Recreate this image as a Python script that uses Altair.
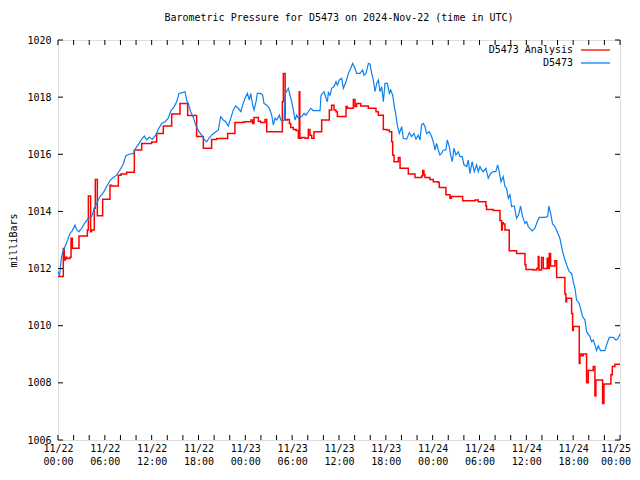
import json
import altair as alt
import pandas as pd

TITLE = "Barometric Pressure for D5473 on 2024-Nov-22 (time in UTC)"
Y_TITLE = "milliBars"
SERIES = ["D5473 Analysis", "D5473"]
COLORS = ["#ff0000", "#0c80f2"]
FONT = "DejaVu Sans Mono"

# hours since 2024-11-22 00:00 UTC
obs_hours = [0.0, 0.2, 0.4, 0.55, 0.9, 1.24, 1.54, 1.84, 2.18, 2.39, 2.69, 3.03, 3.46, 3.89, 4.31, 4.65, 4.95, 5.38, 5.81, 6.23, 6.66, 7.09, 7.51, 7.94, 8.37, 8.67, 9.09, 9.65, 9.95, 10.38, 10.8, 11.06, 11.36, 11.7, 12.08, 12.51, 12.85, 13.28, 13.71, 14.13, 14.47, 14.9, 15.2, 15.5, 15.93, 16.27, 16.48, 16.7, 16.99, 17.34, 17.63, 17.98, 18.4, 18.74, 19.04, 19.34, 19.68, 20.11, 20.54, 20.84, 21.18, 21.48, 21.82, 22.16, 22.46, 22.76, 23.1, 23.44, 23.65, 23.96, 24.26, 24.52, 24.69, 24.94, 25.11, 25.37, 25.54, 25.97, 26.22, 26.39, 26.74, 27.08, 27.38, 27.59, 27.8, 28.02, 28.36, 28.53, 28.79, 28.96, 29.13, 29.38, 29.51, 29.72, 29.94, 30.15, 30.37, 30.58, 30.79, 31.01, 31.22, 31.52, 31.77, 32.07, 32.37, 32.71, 33.35, 33.57, 33.7, 34.08, 34.34, 34.51, 34.64, 34.85, 35.06, 35.36, 35.62, 35.79, 36.04, 36.34, 36.56, 36.9, 37.2, 37.5, 37.75, 38.05, 38.26, 38.69, 39.03, 39.2, 39.46, 39.76, 39.97, 40.19, 40.4, 40.61, 40.83, 41.04, 41.25, 41.47, 41.68, 41.89, 42.19, 42.45, 42.62, 42.88, 43.09, 43.3, 43.47, 43.73, 44.03, 44.24, 44.67, 45.01, 45.31, 45.61, 45.86, 46.16, 46.38, 46.58, 46.8, 47.01, 47.22, 47.57, 47.86, 48.08, 48.29, 48.5, 48.72, 48.93, 49.15, 49.36, 49.7, 49.87, 50.13, 50.3, 50.51, 50.73, 50.98, 51.28, 51.49, 51.79, 52.01, 52.35, 52.56, 52.77, 53.07, 53.33, 53.63, 53.84, 54.06, 54.27, 54.48, 54.82, 55.12, 55.42, 55.76, 56.1, 56.32, 56.53, 56.75, 57.04, 57.26, 57.47, 57.69, 57.9, 58.11, 58.45, 58.75, 59.01, 59.26, 59.52, 59.82, 60.03, 60.25, 60.46, 60.76, 61.1, 61.4, 61.66, 62.04, 62.38, 62.72, 62.89, 63.11, 63.36, 63.66, 63.96, 64.3, 64.65, 64.94, 65.24, 65.5, 65.8, 66.01, 66.23, 66.44, 66.78, 66.99, 67.21, 67.51, 67.72, 68.15, 68.36, 68.57, 68.79, 69.0, 69.21, 69.51, 70.07, 70.28, 70.63, 71.13, 71.48, 71.69, 72.0]
obs_values = [1011.9, 1011.75, 1012.3, 1012.53, 1012.77, 1013.0, 1013.23, 1013.33, 1013.52, 1013.35, 1013.29, 1013.41, 1013.61, 1013.76, 1013.82, 1014.11, 1014.28, 1014.52, 1014.66, 1014.87, 1015.08, 1015.19, 1015.27, 1015.45, 1015.66, 1015.94, 1016.0, 1016.03, 1016.21, 1016.38, 1016.56, 1016.64, 1016.5, 1016.6, 1016.52, 1016.67, 1016.87, 1017.08, 1017.14, 1017.26, 1017.53, 1017.67, 1017.84, 1018.13, 1018.16, 1018.19, 1017.9, 1017.78, 1017.49, 1017.29, 1017.03, 1016.83, 1016.67, 1016.52, 1016.44, 1016.56, 1016.67, 1016.76, 1016.85, 1017.32, 1017.2, 1017.14, 1016.99, 1017.29, 1017.55, 1017.69, 1017.61, 1017.49, 1017.72, 1017.96, 1018.13, 1017.9, 1018.13, 1017.72, 1017.55, 1017.84, 1018.13, 1018.13, 1018.07, 1017.78, 1017.72, 1017.61, 1017.37, 1017.02, 1017.26, 1017.2, 1017.37, 1017.2, 1017.14, 1017.2, 1018.13, 1018.25, 1018.31, 1018.07, 1017.84, 1017.55, 1017.2, 1017.37, 1017.26, 1017.32, 1017.32, 1017.43, 1017.37, 1017.49, 1017.61, 1017.53, 1017.53, 1017.53, 1018.07, 1018.19, 1017.96, 1017.84, 1018.16, 1018.07, 1018.31, 1018.37, 1018.54, 1018.42, 1018.6, 1018.66, 1018.31, 1018.54, 1018.83, 1019.01, 1019.18, 1019.01, 1018.83, 1018.83, 1018.95, 1018.77, 1018.83, 1019.18, 1019.16, 1018.83, 1018.6, 1018.19, 1018.48, 1018.6, 1018.19, 1018.37, 1017.84, 1018.48, 1018.48, 1018.13, 1018.25, 1018.07, 1017.67, 1017.37, 1017.02, 1016.73, 1016.97, 1016.56, 1016.53, 1016.76, 1016.62, 1016.73, 1016.53, 1016.67, 1016.5, 1017.03, 1017.08, 1016.97, 1016.73, 1016.79, 1016.62, 1016.44, 1016.15, 1016.38, 1016.15, 1015.98, 1016.03, 1016.15, 1016.15, 1016.5, 1016.27, 1015.98, 1015.74, 1016.21, 1015.98, 1016.09, 1015.92, 1015.92, 1015.63, 1015.57, 1015.8, 1015.33, 1015.74, 1015.39, 1015.63, 1015.39, 1015.57, 1015.45, 1015.39, 1015.51, 1015.16, 1015.33, 1015.39, 1015.39, 1015.63, 1015.39, 1015.04, 1015.22, 1014.87, 1014.81, 1014.46, 1014.58, 1014.17, 1014.19, 1013.76, 1013.88, 1014.19, 1013.82, 1013.58, 1013.64, 1013.47, 1013.41, 1013.32, 1013.41, 1013.64, 1013.79, 1013.79, 1013.79, 1013.82, 1014.19, 1013.93, 1013.56, 1013.47, 1013.29, 1013.06, 1012.59, 1012.3, 1012.07, 1011.89, 1011.83, 1011.54, 1011.31, 1010.9, 1010.78, 1010.55, 1010.32, 1010.2, 1009.79, 1009.62, 1009.44, 1009.5, 1009.33, 1009.13, 1009.3, 1009.13, 1009.13, 1009.33, 1009.59, 1009.59, 1009.5, 1009.53, 1009.71]

ana_hours = [0.0, 0.68, 0.8, 0.95, 1.15, 1.54, 1.67, 1.84, 2.69, 3.76, 3.89, 4.18, 4.31, 4.65, 4.78, 5.04, 5.72, 6.66, 6.87, 7.73, 8.07, 8.8, 9.78, 10.72, 12.0, 12.64, 13.49, 14.56, 15.63, 16.61, 17.76, 18.62, 19.68, 20.32, 21.73, 22.67, 23.74, 24.0, 24.73, 24.94, 25.11, 25.67, 25.97, 26.52, 26.74, 28.74, 28.87, 29.1, 29.38, 29.64, 29.81, 30.15, 30.49, 30.8, 30.9, 30.98, 31.22, 31.65, 32.07, 32.28, 32.5, 32.8, 33.78, 34.76, 35.06, 35.36, 35.62, 35.79, 36.9, 37.07, 37.84, 38.05, 38.26, 38.78, 39.76, 40.74, 41.04, 41.68, 42.11, 42.45, 42.75, 42.88, 43.05, 43.6, 43.82, 44.88, 45.74, 46.59, 46.72, 46.88, 47.01, 47.65, 48.08, 48.72, 48.85, 49.7, 50.21, 50.4, 51.84, 53.42, 53.84, 54.82, 54.91, 55.76, 56.62, 56.83, 56.92, 57.04, 57.26, 57.81, 58.75, 59.82, 59.95, 60.89, 61.3, 61.53, 61.62, 61.95, 62.17, 62.68, 62.8, 62.94, 63.11, 63.66, 63.88, 64.94, 65.07, 65.16, 65.8, 65.93, 66.01, 66.78, 66.87, 67.08, 67.29, 67.72, 67.93, 68.57, 68.79, 68.91, 69.77, 69.94, 70.84, 71.01, 71.35, 72.0]
ana_values = [1011.72, 1012.7, 1012.3, 1012.4, 1012.35, 1012.4, 1013.06, 1012.71, 1013.14, 1013.35, 1014.54, 1013.29, 1013.35, 1014.11, 1015.12, 1013.85, 1014.43, 1014.92, 1014.89, 1015.27, 1015.31, 1015.37, 1016.15, 1016.38, 1016.43, 1016.73, 1016.99, 1017.41, 1017.78, 1017.36, 1016.62, 1016.21, 1016.52, 1016.55, 1016.73, 1017.11, 1017.13, 1017.14, 1017.2, 1017.08, 1017.29, 1017.16, 1017.11, 1017.22, 1016.79, 1017.84, 1018.83, 1017.2, 1017.22, 1017.08, 1016.94, 1016.87, 1016.83, 1016.56, 1018.19, 1016.56, 1016.59, 1016.56, 1016.87, 1016.67, 1016.56, 1016.79, 1017.2, 1017.55, 1017.72, 1017.55, 1017.49, 1017.32, 1017.67, 1017.61, 1017.92, 1017.67, 1017.78, 1017.69, 1017.61, 1017.49, 1017.37, 1016.87, 1016.85, 1016.79, 1016.44, 1015.97, 1015.74, 1015.89, 1015.51, 1015.31, 1015.19, 1015.24, 1015.43, 1015.28, 1015.19, 1015.12, 1015.04, 1015.01, 1014.84, 1014.58, 1014.46, 1014.52, 1014.37, 1014.4, 1014.34, 1014.19, 1014.07, 1014.03, 1013.68, 1013.35, 1013.6, 1013.56, 1013.35, 1012.62, 1012.53, 1012.13, 1011.97, 1011.95, 1012.0, 1012.42, 1011.95, 1012.39, 1012.0, 1012.36, 1012.0, 1012.53, 1012.09, 1012.27, 1011.69, 1011.11, 1010.84, 1010.96, 1010.43, 1009.83, 1009.97, 1008.68, 1009.01, 1008.95, 1009.01, 1008.0, 1008.43, 1008.57, 1007.54, 1008.1, 1007.28, 1007.96, 1008.28, 1008.57, 1008.65, 1008.65]

x_tick_hours = list(range(0, 73, 2))
x_label_hours = list(range(0, 73, 6))
x_label_dates = ["11/22"] * 4 + ["11/23"] * 4 + ["11/24"] * 4 + ["11/25"]
x_label_times = ["00:00", "06:00", "12:00", "18:00"] * 3 + ["00:00"]
y_ticks = list(range(1006, 1021, 2))

W, H = 562, 400
TICK = 5

label_pairs = [[d, t] for d, t in zip(x_label_dates, x_label_times)]
label_expr = json.dumps(label_pairs) + "[round(datum.value / 6)]"

xscale = alt.Scale(domain=[0, 72], nice=False, zero=False)
yscale = alt.Scale(domain=[1006, 1020], nice=False, zero=False)

x_axis = alt.Axis(values=x_label_hours, labelExpr=label_expr, ticks=False, domain=False,
                  grid=False, labelFont=FONT, labelFontSize=10, labelColor="black",
                  labelLineHeight=13, labelPadding=3, labelAlign="center", title=None,
                  labelOffset={"condition": {"test": "datum.value >= 72", "value": -4.5},
                               "value": 0})
y_axis = alt.Axis(values=y_ticks, ticks=False, domain=False, grid=False, format="d",
                  labelFont=FONT, labelFontSize=10, labelColor="black", labelPadding=7,
                  title=Y_TITLE, titleFont=FONT, titleFontSize=10, titleFontWeight="normal",
                  titleColor="black", titleAngle=-90, titleX=-45, titleY=200,
                  titleAlign="center", titleBaseline="middle")

df_ana = pd.DataFrame({"hour": ana_hours, "value": ana_values})
df_obs = pd.DataFrame({"hour": obs_hours, "value": obs_values})
df_xt = pd.DataFrame({"hour": x_tick_hours})
df_yt = pd.DataFrame({"value": y_ticks})
one = pd.DataFrame({"k": [0]})

ana = alt.Chart(df_ana).mark_line(interpolate="step-after", color=COLORS[0], strokeWidth=1.5).encode(
    x=alt.X("hour:Q", scale=xscale, axis=x_axis),
    y=alt.Y("value:Q", scale=yscale, axis=y_axis),
)
obs = alt.Chart(df_obs).mark_line(color=COLORS[1], strokeWidth=1.2).encode(
    x=alt.X("hour:Q", scale=xscale),
    y=alt.Y("value:Q", scale=yscale),
)

tick_style = dict(color="black", strokeWidth=1)
xt_bottom = alt.Chart(df_xt).mark_rule(**tick_style).encode(
    x=alt.X("hour:Q", scale=xscale), y=alt.value(H), y2=alt.value(H - TICK))
xt_top = alt.Chart(df_xt).mark_rule(**tick_style).encode(
    x=alt.X("hour:Q", scale=xscale), y=alt.value(0), y2=alt.value(TICK))
yt_left = alt.Chart(df_yt).mark_rule(**tick_style).encode(
    y=alt.Y("value:Q", scale=yscale), x=alt.value(0), x2=alt.value(TICK))
yt_right = alt.Chart(df_yt).mark_rule(**tick_style).encode(
    y=alt.Y("value:Q", scale=yscale), x=alt.value(W), x2=alt.value(W - TICK))

legend_layers = []
for i, (name, col) in enumerate(zip(SERIES, COLORS)):
    ly = 10 + 13 * i
    legend_layers.append(
        alt.Chart(one).mark_text(align="right", baseline="middle", font=FONT, fontSize=10,
                                 color="black").encode(
            x=alt.value(515), y=alt.value(ly), text=alt.value(name)))
    legend_layers.append(
        alt.Chart(one).mark_rule(color=col, strokeWidth=1.3).encode(
            x=alt.value(523), x2=alt.value(552), y=alt.value(ly)))

chart = alt.layer(ana, obs, xt_bottom, xt_top, yt_left, yt_right, *legend_layers).properties(
    width=W, height=H,
    title=alt.TitleParams(TITLE, font=FONT, fontSize=10, fontWeight="normal", anchor="middle",
                          color="black", offset=12),
    autosize=alt.AutoSizeParams(type="none"),
    padding={"left": 50, "top": 32, "right": 12, "bottom": 29},
).configure_view(stroke="black", strokeWidth=1).configure(background="white")

chart.save("out.html", embed_options={"renderer": "svg", "actions": False})
